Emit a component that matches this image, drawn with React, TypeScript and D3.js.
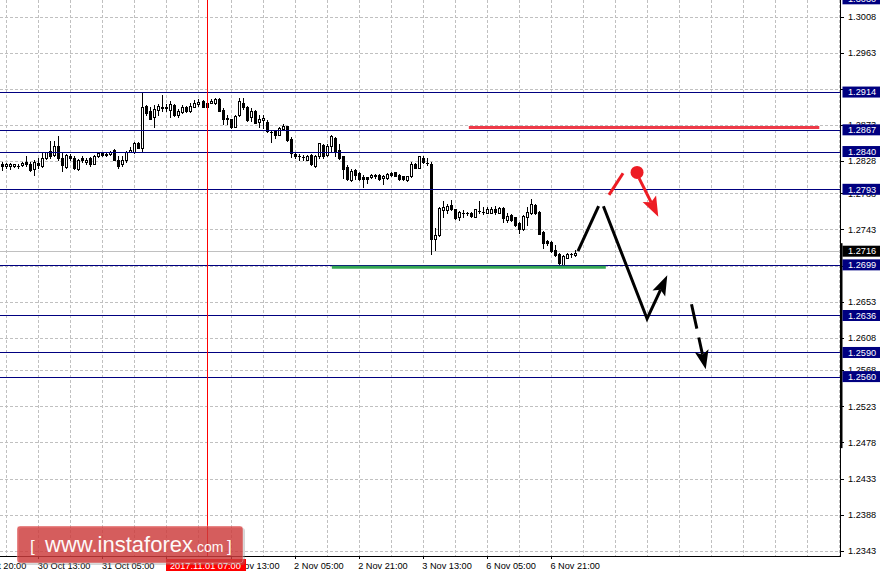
import React from 'react';
import * as d3 from 'd3';

// ---- data -------------------------------------------------------------
// H1 candles [open, high, low, close]; bar 0 = 30 Oct 04:00
const ohlc: [number, number, number, number][] = [
  [1.2824,1.2827,1.2817,1.2822],[1.2822,1.2826,1.2820,1.2825],[1.2822,1.2826,1.2818,1.2825],[1.2822,1.2825,1.2821,1.2824],
  [1.2822,1.2825,1.2820,1.2822],[1.2823,1.2827,1.2822,1.2826],[1.2827,1.2834,1.2822,1.2824],[1.2825,1.2827,1.2816,1.2817],
  [1.2818,1.2830,1.2811,1.2827],[1.2826,1.2832,1.2820,1.2823],[1.2822,1.2839,1.2821,1.2832],[1.2832,1.2840,1.2831,1.2839],
  [1.2841,1.2853,1.2832,1.2834],[1.2836,1.2853,1.2835,1.2847],[1.2847,1.2859,1.2830,1.2832],[1.2832,1.2838,1.2816,1.2823],
  [1.2821,1.2837,1.2820,1.2836],[1.2835,1.2837,1.2829,1.2832],[1.2832,1.2834,1.2818,1.2820],[1.2818,1.2831,1.2817,1.2830],
  [1.2832,1.2834,1.2827,1.2829],[1.2827,1.2832,1.2825,1.2830],[1.2832,1.2833,1.2822,1.2824],[1.2825,1.2836,1.2824,1.2835],
  [1.2835,1.2839,1.2833,1.2838],[1.2838,1.2839,1.2835,1.2836],[1.2836,1.2839,1.2835,1.2837],[1.2837,1.2841,1.2836,1.2840],
  [1.2842,1.2843,1.2829,1.2830],[1.2830,1.2834,1.2820,1.2822],[1.2824,1.2834,1.2822,1.2830],[1.2829,1.2841,1.2827,1.2840],
  [1.2839,1.2846,1.2839,1.2842],[1.2839,1.2852,1.2838,1.2850],[1.2851,1.2852,1.2844,1.2845],[1.2845,1.2914,1.2840,1.2895],
  [1.2897,1.2898,1.2886,1.2888],[1.2890,1.2896,1.2880,1.2881],[1.2883,1.2898,1.2871,1.2893],[1.2892,1.2899,1.2886,1.2897],
  [1.2896,1.2910,1.2890,1.2894],[1.2894,1.2899,1.2890,1.2896],[1.2892,1.2903,1.2883,1.2899],[1.2898,1.2899,1.2884,1.2885],
  [1.2886,1.2893,1.2883,1.2891],[1.2889,1.2898,1.2888,1.2896],[1.2895,1.2897,1.2889,1.2890],[1.2890,1.2900,1.2889,1.2897],
  [1.2896,1.2904,1.2895,1.2901],[1.2899,1.2905,1.2897,1.2902],[1.2903,1.2904,1.2895,1.2896],[1.2900,1.2903,1.2894,1.2896],
  [1.2901,1.2905,1.2900,1.2903],[1.2900,1.2906,1.2899,1.2905],[1.2905,1.2907,1.2890,1.2891],[1.2892,1.2894,1.2874,1.2881],
  [1.2882,1.2885,1.2874,1.2880],[1.2880,1.2881,1.2869,1.2870],[1.2871,1.2886,1.2870,1.2884],[1.2885,1.2906,1.2884,1.2903],
  [1.2901,1.2907,1.2893,1.2895],[1.2896,1.2897,1.2878,1.2879],[1.2883,1.2894,1.2878,1.2890],[1.2890,1.2892,1.2875,1.2876],
  [1.2877,1.2886,1.2871,1.2881],[1.2879,1.2886,1.2869,1.2882],[1.2877,1.2879,1.2864,1.2865],[1.2864,1.2865,1.2852,1.2864],
  [1.2865,1.2866,1.2857,1.2860],[1.2861,1.2870,1.2860,1.2869],[1.2868,1.2874,1.2867,1.2872],[1.2872,1.2872,1.2853,1.2854],
  [1.2856,1.2858,1.2833,1.2838],[1.2837,1.2840,1.2832,1.2834],[1.2834,1.2837,1.2830,1.2834],[1.2833,1.2836,1.2830,1.2833],
  [1.2830,1.2836,1.2829,1.2835],[1.2836,1.2837,1.2823,1.2824],[1.2822,1.2836,1.2821,1.2835],[1.2835,1.2851,1.2832,1.2850],
  [1.2848,1.2849,1.2832,1.2834],[1.2836,1.2849,1.2835,1.2847],[1.2847,1.2861,1.2840,1.2859],[1.2857,1.2858,1.2835,1.2840],
  [1.2842,1.2849,1.2831,1.2832],[1.2834,1.2835,1.2807,1.2818],[1.2821,1.2823,1.2804,1.2806],[1.2805,1.2818,1.2803,1.2816],
  [1.2817,1.2818,1.2806,1.2811],[1.2813,1.2815,1.2804,1.2806],[1.2808,1.2811,1.2796,1.2806],[1.2808,1.2808,1.2801,1.2806],
  [1.2808,1.2812,1.2807,1.2811],[1.2811,1.2812,1.2807,1.2809],[1.2811,1.2812,1.2805,1.2806],[1.2807,1.2811,1.2800,1.2809],
  [1.2807,1.2813,1.2806,1.2812],[1.2813,1.2815,1.2809,1.2811],[1.2814,1.2815,1.2809,1.2810],[1.2811,1.2812,1.2805,1.2806],
  [1.2809,1.2810,1.2805,1.2806],[1.2804,1.2809,1.2803,1.2809],[1.2809,1.2827,1.2808,1.2825],[1.2825,1.2826,1.2819,1.2820],
  [1.2820,1.2835,1.2819,1.2834],[1.2832,1.2834,1.2826,1.2827],[1.2826,1.2832,1.2823,1.2826],[1.2825,1.2827,1.2713,1.2731],
  [1.2731,1.2745,1.2718,1.2736],[1.2736,1.2771,1.2735,1.2770],[1.2767,1.2778,1.2759,1.2771],[1.2767,1.2775,1.2763,1.2772],
  [1.2773,1.2780,1.2767,1.2768],[1.2768,1.2769,1.2756,1.2757],[1.2759,1.2766,1.2755,1.2765],[1.2763,1.2767,1.2759,1.2763],
  [1.2763,1.2765,1.2761,1.2763],[1.2763,1.2765,1.2758,1.2760],[1.2759,1.2769,1.2758,1.2768],[1.2766,1.2778,1.2763,1.2766],
  [1.2765,1.2771,1.2762,1.2765],[1.2764,1.2771,1.2763,1.2769],[1.2764,1.2771,1.2763,1.2769],[1.2769,1.2772,1.2762,1.2765],
  [1.2764,1.2771,1.2763,1.2770],[1.2770,1.2771,1.2752,1.2757],[1.2755,1.2763,1.2752,1.2760],[1.2761,1.2762,1.2753,1.2755],
  [1.2758,1.2759,1.2747,1.2749],[1.2751,1.2752,1.2739,1.2743],[1.2743,1.2761,1.2742,1.2760],[1.2759,1.2771,1.2749,1.2765],
  [1.2763,1.2781,1.2762,1.2775],[1.2774,1.2775,1.2762,1.2763],[1.2765,1.2766,1.2737,1.2738],[1.2740,1.2741,1.2720,1.2726],
  [1.2729,1.2730,1.2724,1.2726],[1.2728,1.2729,1.2715,1.2716],[1.2718,1.2724,1.2710,1.2711],[1.2713,1.2714,1.2700,1.2701],
  [1.2699,1.2711,1.2698,1.2710],[1.2708,1.2714,1.2707,1.2713],[1.2712,1.2714,1.2709,1.2712],[1.2711,1.2717,1.2710,1.2714],
];

const priceTickLabels = ['1.3008','1.2963','1.2918','1.2873','1.2828','1.2788','1.2743','1.2698','1.2653','1.2608','1.2568','1.2523','1.2478','1.2433','1.2388','1.2343'];
const timeLabels = ['27 Oct 20:00','30 Oct 13:00','31 Oct 05:00','31 Oct 21:00','1 Nov 13:00','2 Nov 05:00','2 Nov 21:00','3 Nov 13:00','6 Nov 05:00','6 Nov 21:00'];
const timeLabelBars = [-7, 9, 25, 41, 57, 73, 89, 105, 121, 137];
const gridBars = d3.range(1, 210, 8);

const levelPrices = [1.3030, 1.2914, 1.2867, 1.2840, 1.2793, 1.2699, 1.2636, 1.2590, 1.2560];
const currentPrice = 1.2716;
const markerBar = 51;
const markerLabel = '2017.11.01 07:00';

const resistance = { from: 116.5, to: 204, price: 1.2870 };
const support = { from: 82.3, to: 150.7, price: 1.2696 };
const forecastUp: [number, number][] = [[143.75, 1.2716], [148.9, 1.2772]];
const forecastDown: [number, number][] = [[150.1, 1.2772], [161.0, 1.2632], [166.05, 1.2686]];
const forecastDashed: [number, number][] = [[172.1, 1.2650], [175.65, 1.2569]];
const redStroke: [number, number][] = [[151.5, 1.2786], [155.0, 1.2813]];
const redDot: [number, number] = [158.5, 1.2814];
const redArrow: [number, number][] = [[159.0, 1.2807], [163.8, 1.2759]];
const axisBar = [1.2726, 1.2471];

// ---- layout -----------------------------------------------------------
const W = 882, H = 577;
const RIGHT = 840, BOTTOM = 556;
const FONT = '"Liberation Sans", Arial, sans-serif';

function arrow(pts: [number, number][], len: number, hw: number) {
  const tip = pts[pts.length - 1];
  const prev = pts[pts.length - 2];
  const dx = tip[0] - prev[0], dy = tip[1] - prev[1];
  const d = Math.hypot(dx, dy);
  const ux = dx / d, uy = dy / d, nx = -uy, ny = ux;
  const bx = tip[0] - ux * len, by = tip[1] - uy * len;
  const notch: [number, number] = [tip[0] - ux * (len - 4), tip[1] - uy * (len - 4)];
  const head = `M${tip[0]},${tip[1]}L${bx + nx * hw},${by + ny * hw}L${notch[0]},${notch[1]}L${bx - nx * hw},${by - ny * hw}Z`;
  const shaft = [...pts.slice(0, -1), notch];
  return { head, shaft };
}

export default function App() {
  const x = d3.scaleLinear().domain([0, 209]).range([2.25, 839.3]);
  const y = d3.scaleLinear().domain([1.2343, 1.3008]).range([551, 16.5]);
  const cr = (v: number) => Math.round(v) + 0.5;
  const px = (p: [number, number]): [number, number] => [x(p[0]), y(p[1])];
  const line = d3.line<[number, number]>();

  const up = forecastUp.map(px);
  const down = arrow(forecastDown.map(px), 20, 7);
  const dashed = arrow(forecastDashed.map(px), 19, 7);
  const red = arrow(redArrow.map(px), 20, 7.5);

  const boxPrices = [...levelPrices, currentPrice];
  // tick texts almost fully covered by a level box are hidden (as in the reference)
  const hiddenTick = (t: string) => boxPrices.some((p) => Math.abs(y(p) - y(+t)) < 3.6);
  const markerX = x(markerBar);
  const hiddenTime = (b: number) => x(b) > markerX - 41 && x(b) + 50 < markerX + 40;

  return (
    <div>
      <style>{'body{margin:0;background:#fff}'}</style>
      <svg width={W} height={H} style={{ display: 'block' }} fontFamily={FONT}>
        <rect width={W} height={H} fill="#fff" />
        <defs>
          <clipPath id="plot"><rect x={0} y={0} width={RIGHT} height={BOTTOM} /></clipPath>
        </defs>
        <g clipPath="url(#plot)">
          {/* grid */}
          {priceTickLabels.map((t) => (
            <line key={'h' + t} x1={0} x2={RIGHT} y1={cr(y(+t))} y2={cr(y(+t))} stroke="#c0c0c0" strokeDasharray="3,2" />
          ))}
          {gridBars.map((b) => (
            <line key={'v' + b} x1={cr(x(b))} x2={cr(x(b))} y1={0} y2={BOTTOM} stroke="#c0c0c0" strokeDasharray="3,2" />
          ))}
          {/* current price */}
          <line x1={0} x2={RIGHT} y1={cr(y(currentPrice))} y2={cr(y(currentPrice))} stroke="#c0c0c0" />
          {/* candles */}
          {ohlc.map(([o, h, l, c], i) => {
            const cx = Math.round(x(i));
            const top = Math.round(y(Math.max(o, c)));
            const bot = Math.round(y(Math.min(o, c)));
            const doji = Math.abs(o - c) < 0.00005;
            return (
              <g key={i}>
                <line x1={cx + 0.5} x2={cx + 0.5} y1={Math.round(y(h))} y2={Math.round(y(l)) + 1} stroke="#000" />
                {doji ? (
                  <line x1={cx - 1} x2={cx + 2} y1={cr(y(c))} y2={cr(y(c))} stroke="#000" />
                ) : (
                  <rect x={cx - 0.5} y={top + 0.5} width={2} height={Math.max(1, bot - top)} fill={c >= o ? '#fff' : '#000'} stroke="#000" />
                )}
              </g>
            );
          })}
          {/* horizontal levels */}
          {levelPrices.map((p) => (
            <line key={'l' + p} x1={0} x2={RIGHT} y1={cr(y(p))} y2={cr(y(p))} stroke="#000080" />
          ))}
          {/* marker vertical */}
          <line x1={cr(markerX)} x2={cr(markerX)} y1={0} y2={BOTTOM} stroke="#ff0000" />
          {/* support/resistance */}
          <line x1={x(resistance.from)} x2={x(resistance.to)} y1={y(resistance.price)} y2={y(resistance.price)} stroke="#ee3a48" strokeWidth={3} />
          <line x1={x(support.from)} x2={x(support.to)} y1={y(support.price)} y2={y(support.price)} stroke="#33a652" strokeWidth={3} />
          {/* forecast */}
          <path d={line(up) || ''} fill="none" stroke="#000" strokeWidth={3} />
          <path d={line(down.shaft) || ''} fill="none" stroke="#000" strokeWidth={3} strokeLinejoin="miter" />
          <path d={down.head} fill="#000" />
          <path d={line(dashed.shaft) || ''} fill="none" stroke="#000" strokeWidth={3} strokeDasharray="25,9" />
          <path d={dashed.head} fill="#000" />
          <path d={line(redStroke.map(px)) || ''} fill="none" stroke="#ed1c24" strokeWidth={3} />
          <circle cx={x(redDot[0])} cy={y(redDot[1])} r={6.5} fill="#ed1c24" />
          <path d={line(red.shaft) || ''} fill="none" stroke="#ed1c24" strokeWidth={3} />
          <path d={red.head} fill="#ed1c24" />
        </g>

        {/* axes */}
        <line x1={0} x2={RIGHT + 1} y1={BOTTOM + 0.5} y2={BOTTOM + 0.5} stroke="#000" />
        <line x1={RIGHT + 0.5} x2={RIGHT + 0.5} y1={0} y2={BOTTOM + 1} stroke="#000" />
        <rect x={RIGHT} y={y(axisBar[0])} width={2.5} height={y(axisBar[1]) - y(axisBar[0])} fill="#000" />

        {/* price ticks */}
        {priceTickLabels.map((t) => (
          <g key={'pt' + t}>
            <line x1={RIGHT + 1} x2={RIGHT + 4} y1={cr(y(+t))} y2={cr(y(+t))} stroke="#000" />
            {!hiddenTick(t) && (
              <text x={848} y={y(+t)} dy="0.35em" fontSize={9.2} fill="#000">{t}</text>
            )}
          </g>
        ))}
        {/* level labels */}
        {levelPrices.map((p) => (
          <g key={'lb' + p}>
            <rect x={842.5} y={y(p) - 5.5} width={37.5} height={11} fill="#000080" />
            <text x={848} y={y(p)} dy="0.35em" fontSize={9.2} fill="#fff">{p.toFixed(4)}</text>
          </g>
        ))}
        <rect x={842.5} y={y(currentPrice) - 5.5} width={37.5} height={11} fill="#000" />
        <text x={848} y={y(currentPrice)} dy="0.35em" fontSize={9.2} fill="#fff">{currentPrice.toFixed(4)}</text>

        {/* time ticks */}
        {timeLabels.map((t, i) => (
          <g key={'tl' + t}>
            <line x1={cr(x(timeLabelBars[i]))} x2={cr(x(timeLabelBars[i]))} y1={BOTTOM} y2={BOTTOM + 3} stroke="#000" />
            {!hiddenTime(timeLabelBars[i]) && (
              <text x={x(timeLabelBars[i]) - 0.5} y={568.5} fontSize={9.2} fill="#000">{t}</text>
            )}
          </g>
        ))}
        <rect x={markerX - 40.5} y={559} width={80} height={12} fill="#ff0000" />
        <text x={markerX - 36.5} y={568.5} fontSize={9.2} fill="#fff">{markerLabel}</text>

        {/* watermark */}
        <g>
          <rect x={19} y={528} width={226} height={37} rx={3} fill="#888" opacity={0.35} />
          <rect x={17} y={526} width={226} height={37} rx={3} fill="rgb(214,52,52)" opacity={0.74} stroke="#fff" strokeOpacity={0.4} />
          <g fill="#fff" opacity={0.97}>
            <text x={30} y={552} fontSize={17}>[</text>
            <text x={45} y={551.5} fontSize={22}>www.instaforex</text>
            <text x={193} y={551.5} fontSize={14}>.com</text>
            <text x={227} y={552} fontSize={17}>]</text>
          </g>
        </g>
      </svg>
    </div>
  );
}
